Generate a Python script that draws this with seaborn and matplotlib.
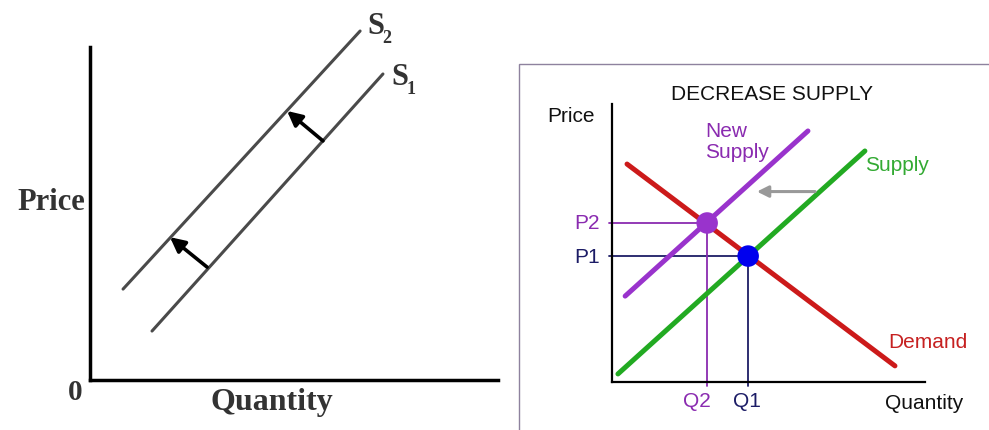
#import libraries
import numpy as np
import pandas as pd
import seaborn as sns
import matplotlib.pyplot as plt
from matplotlib.patches import Rectangle

# left diagram: two supply curves (quantity, price)
s1_q = [1.52, 7.18]
s1_p = [1.47, 9.19]
s2_q = [0.81, 6.62]
s2_p = [2.73, 10.48]
# shift arrows (from S1 towards S2)
shift_from = [(5.71, 7.18), (2.87, 3.39)]
shift_to = [(4.83, 8.08), (1.96, 4.29)]

# right diagram: demand, old supply, new supply
demand_q = [0.48, 9.04]
demand_p = [7.84, 0.58]
supply_q = [0.19, 8.08]
supply_p = [0.29, 8.31]
new_q = [0.42, 6.26]
new_p = [3.09, 9.03]
eq_labels = ["P1", "P2"]
eq_q = [4.35, 3.04]
eq_p = [4.53, 5.72]
q_labels = ["Q1", "Q2"]

sns.set_theme(style="white")

fig = plt.figure(figsize=(9.89, 4.31), dpi=100)
serif = "Liberation Serif"
sans = "Liberation Sans"

# ---------------- left panel ----------------
ax1 = fig.add_axes([90 / 989, 50 / 431, 408 / 989, 333 / 431])
ax1.set_xlim(0, 10)
ax1.set_ylim(0, 10)
sns.lineplot(x=s1_q, y=s1_p, ax=ax1, color="#4a4a4a", lw=2.2, clip_on=False)
sns.lineplot(x=s2_q, y=s2_p, ax=ax1, color="#4a4a4a", lw=2.2, clip_on=False)
for a, b in zip(shift_from, shift_to):
    ax1.annotate("", xy=b, xytext=a,
                 arrowprops=dict(arrowstyle="-|>", color="black", lw=2.6, mutation_scale=22,
                                 shrinkA=0, shrinkB=0))
ax1.text(7.01, 10.66, "S", fontsize=22, fontweight="bold", family=serif, color="#333333",
         ha="center", va="center")
ax1.text(7.28, 10.30, "2", fontsize=13, fontweight="bold", family=serif, color="#333333",
         ha="center", va="center")
ax1.text(7.60, 9.12, "S", fontsize=22, fontweight="bold", family=serif, color="#333333",
         ha="center", va="center")
ax1.text(7.88, 8.76, "1", fontsize=13, fontweight="bold", family=serif, color="#333333",
         ha="center", va="center")
ax1.text(-0.12, 5.35, "Price", fontsize=22, fontweight="bold", family=serif, color="#333333",
         ha="right", va="center")
ax1.text(-0.37, -0.36, "0", fontsize=21, fontweight="bold", family=serif, color="#333333",
         ha="center", va="center")
ax1.text(4.46, -0.66, "Quantity", fontsize=23, fontweight="bold", family=serif, color="#333333",
         ha="center", va="center")
ax1.set_xticks([])
ax1.set_yticks([])
sns.despine(ax=ax1)
for sp in ["left", "bottom"]:
    ax1.spines[sp].set_color("black")
    ax1.spines[sp].set_linewidth(2.5)

# ---------------- right panel ----------------
fig.patches.append(Rectangle((519 / 989, -0.05), 0.6, (431 - 65) / 431 + 0.05,
                             transform=fig.transFigure, fill=False, ec="#8e829e", lw=1.0))

ax2 = fig.add_axes([612 / 989, 48 / 431, 313 / 989, 278 / 431])
ax2.set_xlim(0, 10)
ax2.set_ylim(0, 10)

# guide lines from equilibrium points to the axes
guide_cols = ["#1c1c66", "#8a2bb0"]
for q, p, c in zip(eq_q, eq_p, guide_cols):
    ax2.plot([-0.08, q], [p, p], color=c, lw=1.3, clip_on=False)
    ax2.plot([q, q], [p, -0.15], color=c, lw=1.3, clip_on=False)

sns.lineplot(x=supply_q, y=supply_p, ax=ax2, color="#22aa22", lw=3.6)
sns.lineplot(x=demand_q, y=demand_p, ax=ax2, color="#cc1a1a", lw=3.6)
sns.lineplot(x=new_q, y=new_p, ax=ax2, color="#9933cc", lw=3.6)
sns.scatterplot(x=eq_q, y=eq_p, ax=ax2, hue=eq_labels, palette=["#0000ee", "#9933cc"],
                s=240, edgecolor="none", legend=False, zorder=5)

ax2.annotate("", xy=(4.63, 6.85), xytext=(6.49, 6.85),
             arrowprops=dict(arrowstyle="-|>", color="#999999", lw=2.2, mutation_scale=17,
                             shrinkA=0, shrinkB=0))

tkw = dict(fontsize=15, family=sans, ha="center", va="center", clip_on=False)
ax2.text(5.11, 10.36, "DECREASE SUPPLY", color="#111111", **tkw)
ax2.text(-1.31, 9.57, "Price", color="#111111", **tkw)
ax2.text(9.97, -0.72, "Quantity", color="#111111", **tkw)
ax2.text(10.1, 1.44, "Demand", color="#c62020", **tkw)
ax2.text(9.11, 7.81, "Supply", color="#33aa33", **tkw)
ax2.text(2.97, 8.67, "New\nSupply", color="#8a2bb0", fontsize=15, family=sans,
         ha="left", va="center", linespacing=1.08)
ax2.text(-0.80, eq_p[1], eq_labels[1], color="#8a2bb0", **tkw)
ax2.text(-0.80, eq_p[0], eq_labels[0], color="#1c1c66", **tkw)
ax2.text(2.72, -0.65, q_labels[1], color="#8a2bb0", **tkw)
ax2.text(4.31, -0.65, q_labels[0], color="#1c1c66", **tkw)

ax2.set_xticks([])
ax2.set_yticks([])
sns.despine(ax=ax2)
for sp in ["left", "bottom"]:
    ax2.spines[sp].set_color("black")
    ax2.spines[sp].set_linewidth(1.6)

fig.savefig("out.png", dpi=100)
